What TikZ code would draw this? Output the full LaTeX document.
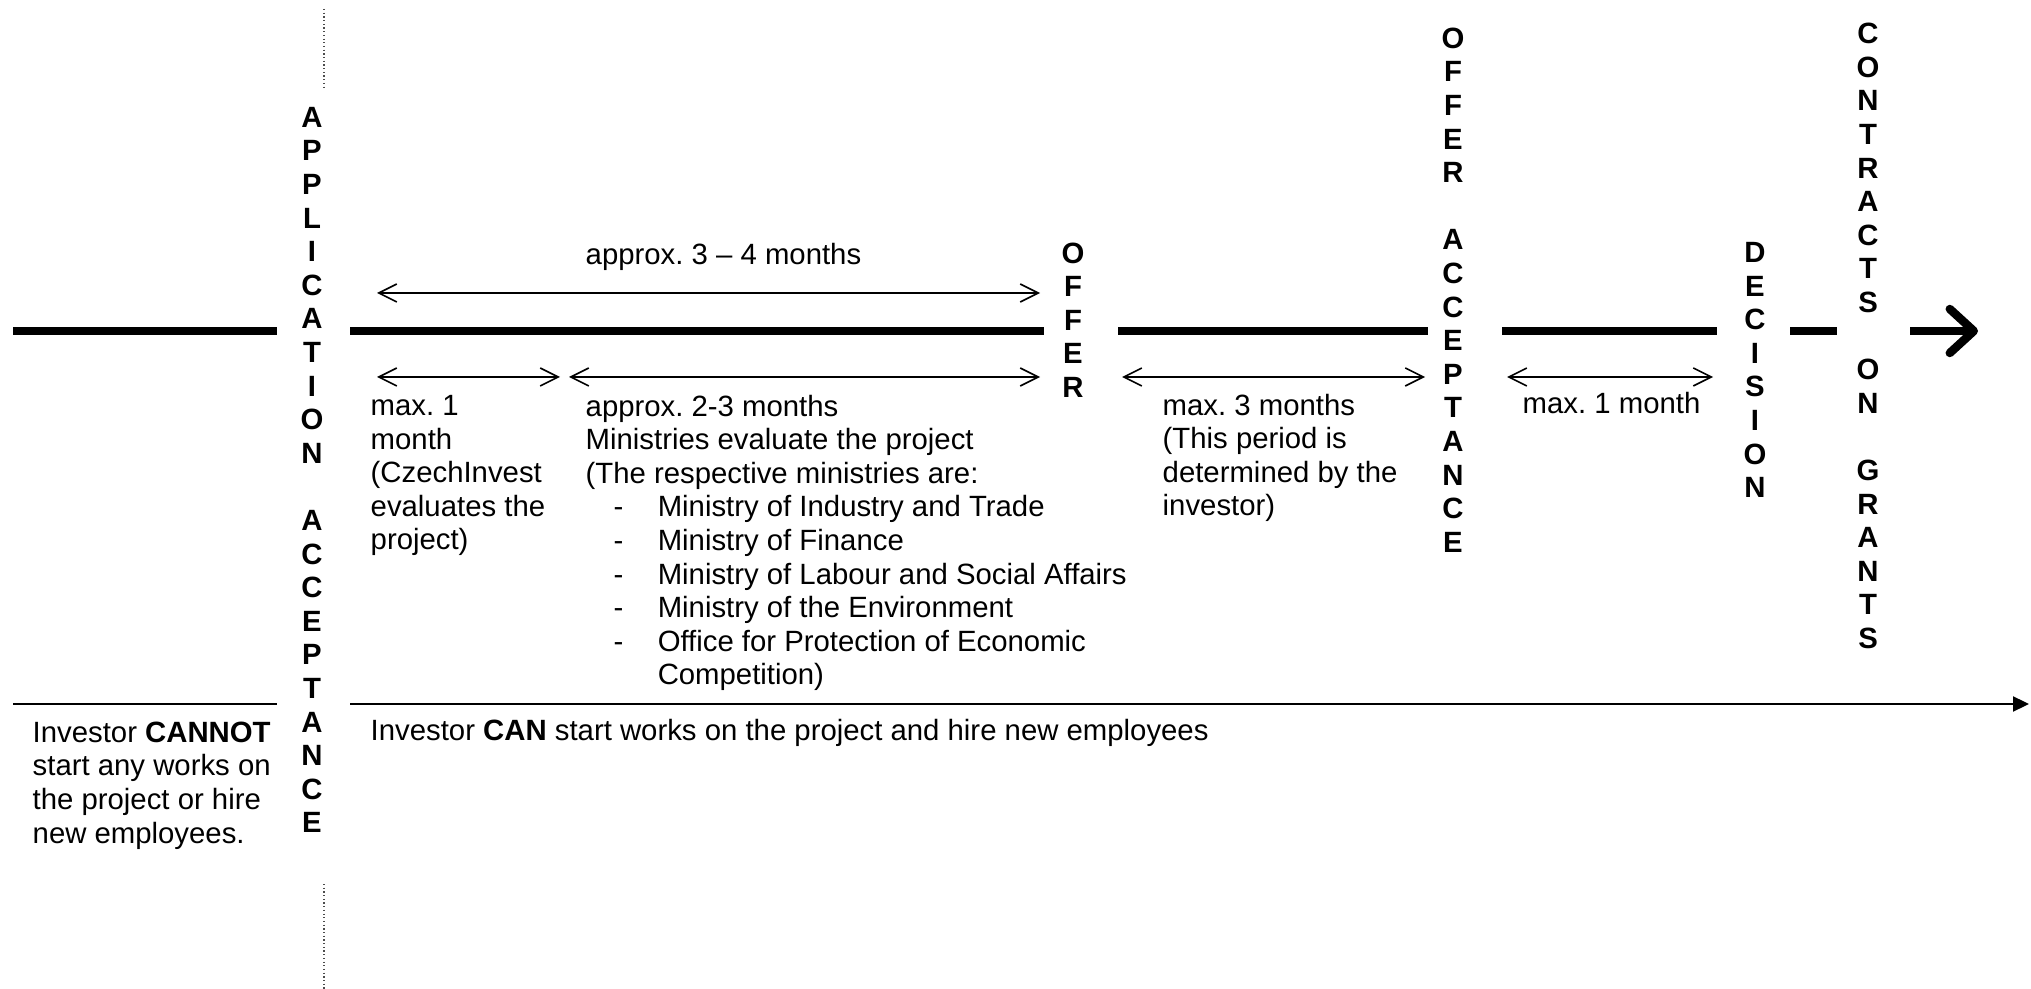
\documentclass[tikz,border=0pt]{standalone}
\usepackage{fontspec}
\setmainfont{Liberation Sans}
\usetikzlibrary{arrows.meta}

% one indented entry of the ministry list
\newcommand{\ministry}[1]{\hspace*{0.28cm}\makebox[0.44cm][l]{-}#1}

\begin{document}
\frenchspacing
\begin{tikzpicture}[
    x = 0.01cm, y = -0.01cm,
    every node/.style = {font=\fontsize{8.34}{9.555}\selectfont, inner sep=0pt},
    milestone/.style  = {align=center, font=\fontsize{8.34}{9.555}\selectfont\bfseries},
    note/.style       = {align=left, anchor=base west},  % placed by the baseline of the last line
    phase/.style      = {line width=2.4pt},
    dimarr/.style     = {{Straight Barb[length=1.8mm,width=1.8mm]}-{Straight Barb[length=1.8mm,width=1.8mm]},
                         line width=0.45pt},
    workline/.style   = {line width=0.6pt},
    guide/.style      = {line width=0.35pt, black!70, dash pattern=on 0.35pt off 0.7pt}
]
\useasboundingbox (0,0) rectangle (2031,989);

% milestones, spelled top to bottom
\node[milestone] (app)       at (312,470)  {A\\P\\P\\L\\I\\C\\A\\T\\I\\O\\N\\ \\A\\C\\C\\E\\P\\T\\A\\N\\C\\E};
\node[milestone] (offer)     at (1073,320) {O\\F\\F\\E\\R};
\node[milestone] (offacc)    at (1453,290) {O\\F\\F\\E\\R\\ \\A\\C\\C\\E\\P\\T\\A\\N\\C\\E};
\node[milestone] (decision)  at (1755,370) {D\\E\\C\\I\\S\\I\\O\\N};
\node[milestone] (contracts) at (1868,336) {C\\O\\N\\T\\R\\A\\C\\T\\S\\ \\O\\N\\ \\G\\R\\A\\N\\T\\S};

% time axis
\coordinate (start) at (13,331);
\coordinate (appL)  at (277,331);  \coordinate (appR) at (350,331);
\coordinate (offL)  at (1044,331); \coordinate (offR) at (1118,331);
\coordinate (accL)  at (1428,331); \coordinate (accR) at (1502,331);
\coordinate (decL)  at (1717,331); \coordinate (decR) at (1790,331);
\coordinate (conL)  at (1837,331); \coordinate (conR) at (1910,331);
\coordinate (end)   at (1978,331);

\draw[phase] (start) -- (appL);
\draw[phase] (appR) -- (offL);
\draw[phase] (offR) -- (accL);
\draw[phase] (accR) -- (decL);
\draw[phase] (decR) -- (conL);
\draw[phase, -{Straight Barb[length=2.4mm,width=4.4mm,round]}] (conR) -- (end);

% durations
\coordinate (u1) at (377,293);  \coordinate (u2) at (1040,293);
\coordinate (m1) at (377,377);  \coordinate (m2) at (560,377);
\coordinate (m3) at (569,377);  \coordinate (m4) at (1040,377);
\coordinate (m5) at (1122,377); \coordinate (m6) at (1425,377);
\coordinate (m7) at (1507,377); \coordinate (m8) at (1713,377);

\draw[dimarr] (u1) -- (u2);
\draw[dimarr] (m1) -- (m2);
\draw[dimarr] (m3) -- (m4);
\draw[dimarr] (m5) -- (m6);
\draw[dimarr] (m7) -- (m8);

\node[note] (total) at (585,265) {approx. 3 -- 4 months};
\node[note] (czi)   at (370,550) {max. 1\\month\\(CzechInvest\\evaluates the\\project)};
\node[note] (mins)  at (585,685) {approx. 2-3 months\\Ministries evaluate the project\\(The respective ministries are:\\
    \ministry{Ministry of Industry and Trade}\\
    \ministry{Ministry of Finance}\\
    \ministry{Ministry of Labour and Social Affairs}\\
    \ministry{Ministry of the Environment}\\
    \ministry{Office for Protection of Economic}\\
    \hspace*{0.72cm}Competition)};
\node[note] (inv)   at (1162,516) {max. 3 months\\(This period is\\determined by the\\investor)};
\node[note] (dec)   at (1522,414) {max. 1 month};

% may the investor start works?
\coordinate (b0) at (13,704);  \coordinate (b1) at (277,704);
\coordinate (b2) at (350,704); \coordinate (b3) at (2029,704);
\draw[workline] (b0) -- (b1);
\draw[workline, -{Triangle[length=1.6mm,width=1.5mm]}] (b2) -- (b3);

\node[note] (cannot) at (32,843)  {Investor \textbf{CANNOT}\\start any works on\\the project or hire\\new employees.};
\node[note] (can)    at (370,741) {Investor \textbf{CAN} start works on the project and hire new employees};

% dotted guide above and below the application acceptance
\coordinate (d0) at (324,9);   \coordinate (d1) at (324,90);
\coordinate (d2) at (324,884); \coordinate (d3) at (324,989);
\draw[guide] (d0) -- (d1);
\draw[guide] (d2) -- (d3);
\end{tikzpicture}
\end{document}
